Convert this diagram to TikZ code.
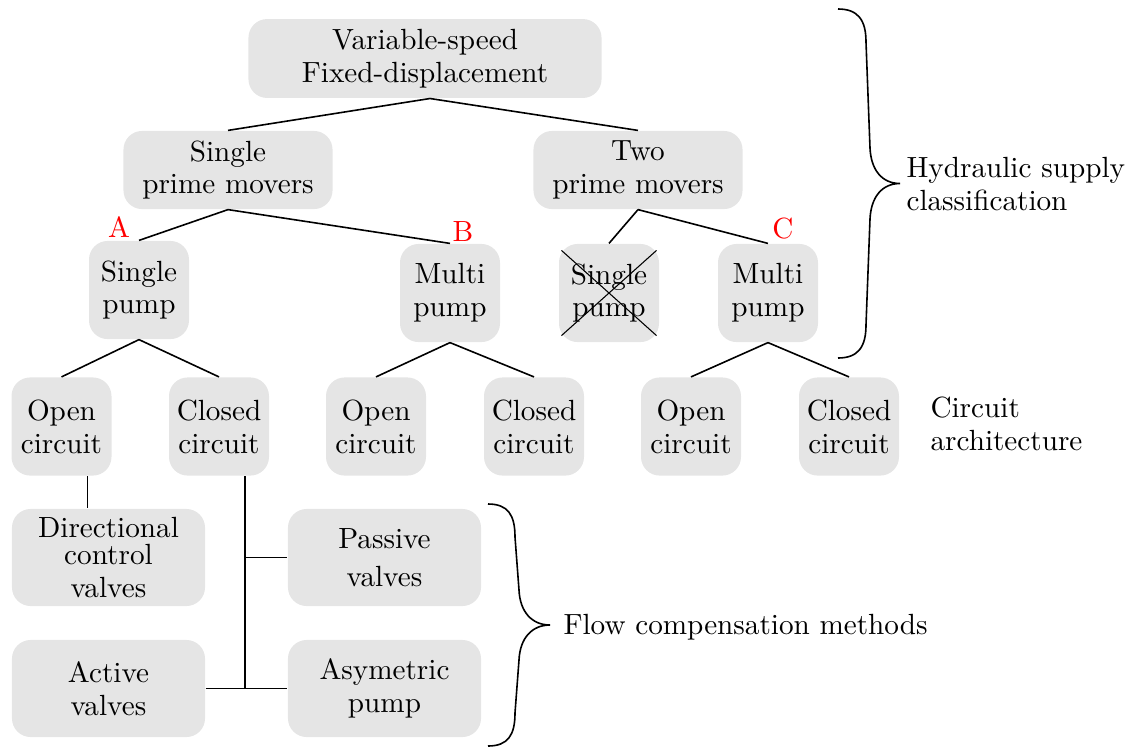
\documentclass[tikz,border=0pt]{standalone}
\begin{document}
\begin{tikzpicture}[x=0.375pt,y=-0.375pt,
  font=\fontsize{10.95}{12.3}\selectfont,
  box/.style={fill=gray!20, rounded corners=7pt, align=center, inner sep=0pt},
  topbox/.style={box, minimum width=132.4pt, minimum height=29.6pt},
  midbox/.style={box, minimum width=78.4pt, minimum height=29.3pt},
  smallbox/.style={box, minimum width=37.5pt, minimum height=36.8pt},
  widebox/.style={box, minimum width=72.4pt, minimum height=36.4pt},
  lbl/.style={text=red, inner sep=0pt},
  note/.style={align=left, anchor=west, inner sep=0pt},
  conn/.style={line width=0.6pt},
  bracestyle/.style={line width=0.6pt}]
\useasboundingbox (0,0) rectangle (1128,747);

% level 0
\node[topbox] (top) at (425,58.5) {Variable-speed\\Fixed-displacement};
% level 1
\node[midbox] (spm) at (228,170) {Single\\prime movers};
\node[midbox] (tpm) at (638,170) {Two\\prime movers};
% level 2
\node[smallbox] (sp1) at (139,290) {Single\\pump};
\node[smallbox] (mp1) at (450,293) {Multi\\pump};
\node[smallbox] (sp2) at (609,293) {Single\\pump};
\node[smallbox] (mp2) at (768,293) {Multi\\pump};
% level 3
\node[smallbox] (oA) at (61.5,426.5) {Open\\circuit};
\node[smallbox] (cA) at (219,426.5) {Closed\\circuit};
\node[smallbox] (oB) at (376,426.5) {Open\\circuit};
\node[smallbox] (cB) at (534,426.5) {Closed\\circuit};
\node[smallbox] (oC) at (691,426.5) {Open\\circuit};
\node[smallbox] (cC) at (849,426.5) {Closed\\circuit};
% level 4
\node[widebox] (dcv) at (108.5,557.5) {Directional\\[-2pt]control\\valves};
\node[widebox] (pv) at (384.5,557.5) {Passive\\[2pt]valves};
\node[widebox] (av) at (108.5,688.5) {Active\\valves};
\node[widebox] (ap) at (384.5,688.5) {Asymetric\\pump};

% red labels
\node[lbl] (la) at (119,227) {A};
\node[lbl] (lb) at (463,232) {B};
\node[lbl] (lc) at (783,229) {C};

% cross out
\draw ([shift={(3,7)}]sp2.north west) -- ([shift={(-3,-7)}]sp2.south east);
\draw ([shift={(3,-7)}]sp2.south west) -- ([shift={(-3,7)}]sp2.north east);

% connectors
\draw[conn] ([shift={(5,0)}]top.south) -- (spm.north);
\draw[conn] ([shift={(5,0)}]top.south) -- (tpm.north);
\draw[conn] (spm.south) -- (sp1.north);
\draw[conn] (spm.south) -- (mp1.north);
\draw[conn] (tpm.south) -- (sp2.north);
\draw[conn] (tpm.south) -- (mp2.north);
\draw[conn] (sp1.south) -- (oA.north);
\draw[conn] (sp1.south) -- (cA.north);
\draw[conn] (mp1.south) -- (oB.north);
\draw[conn] (mp1.south) -- (cB.north);
\draw[conn] (mp2.south) -- (oC.north);
\draw[conn] (mp2.south) -- (cC.north);

\draw[conn] ([shift={(26,0)}]oA.south) -- ([shift={(26,0)}]oA.south |- dcv.north);
\coordinate (j1) at ([shift={(26,0)}]cA.south |- pv.west);
\coordinate (j2) at ([shift={(26,0)}]cA.south |- ap.west);
\draw[conn] ([shift={(26,0)}]cA.south) -- (j2);
\draw[conn] (j1) -- (pv.west);
\draw[conn] (av.east) -- (ap.west);

% braces
\draw[bracestyle] (838,9) .. controls (858,9) and (866,20) .. (866,42)
  -- (870,148) .. controls (871,170) and (882,183.5) .. (900,183.5)
  .. controls (882,183.5) and (871,197) .. (870,219)
  -- (866,325) .. controls (866,347) and (858,358) .. (838,358);
\draw[bracestyle] (488,504) .. controls (508,504) and (515,515) .. (515,537)
  -- (519,590) .. controls (520,612) and (532,625) .. (550,625)
  .. controls (532,625) and (520,638) .. (519,660)
  -- (515,713) .. controls (515,735) and (508,746) .. (488,746);

% side notes
\node[note] (hs) at (906,184) {Hydraulic supply\\classification};
\node[note] (ca) at (930,424) {Circuit\\architecture};
\node[note] (fc) at (563,627) {Flow compensation methods};
\end{tikzpicture}
\end{document}
